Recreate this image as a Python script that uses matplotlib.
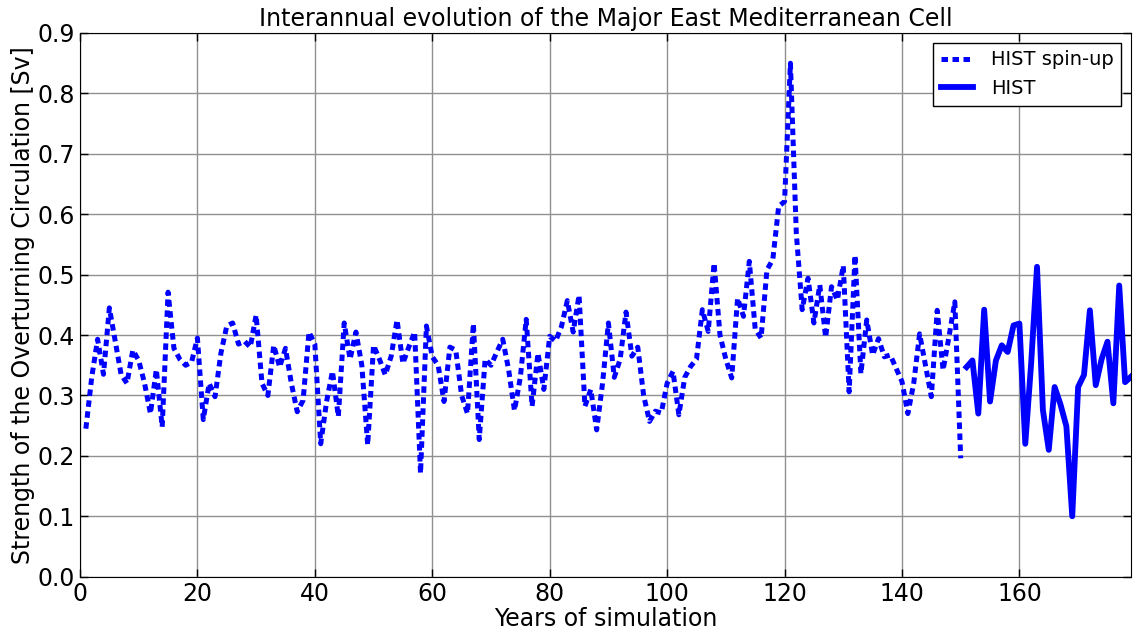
"""
Interannual evolution of the Major East Mediterranean Cell.
"""

import numpy as np
import matplotlib
matplotlib.use("Agg")
import matplotlib.pyplot as plt

# spin-up run, years 1..150
spinup_years = np.arange(1, 151)
spinup_sv = [
    0.245, 0.33, 0.393, 0.335, 0.445, 0.39, 0.335, 0.32, 0.375, 0.358,
    0.32, 0.27, 0.343, 0.248, 0.471, 0.378, 0.36, 0.35, 0.355, 0.395,
    0.26, 0.32, 0.298, 0.37, 0.415, 0.42, 0.385, 0.39, 0.38, 0.433,
    0.32, 0.30, 0.383, 0.347, 0.378, 0.32, 0.273, 0.292, 0.405, 0.385,
    0.22, 0.29, 0.34, 0.265, 0.42, 0.36, 0.405, 0.35, 0.218, 0.383,
    0.36, 0.334, 0.365, 0.425, 0.353, 0.38, 0.405, 0.171, 0.415, 0.364,
    0.35, 0.29, 0.38, 0.375, 0.30, 0.27, 0.419, 0.227, 0.36, 0.35,
    0.372, 0.393, 0.343, 0.275, 0.33, 0.426, 0.282, 0.37, 0.31, 0.398,
    0.39, 0.414, 0.457, 0.405, 0.466, 0.282, 0.31, 0.243, 0.32, 0.42,
    0.33, 0.36, 0.438, 0.365, 0.38, 0.30, 0.257, 0.274, 0.271, 0.32,
    0.34, 0.268, 0.33, 0.348, 0.36, 0.442, 0.406, 0.519, 0.40, 0.36,
    0.329, 0.461, 0.431, 0.522, 0.41, 0.395, 0.508, 0.525, 0.613, 0.621,
    0.85, 0.569, 0.442, 0.494, 0.42, 0.483, 0.396, 0.48, 0.458, 0.515,
    0.306, 0.532, 0.336, 0.425, 0.367, 0.394, 0.364, 0.367, 0.345, 0.323,
    0.27, 0.32, 0.402, 0.35, 0.298, 0.441, 0.342, 0.397, 0.455, 0.196,
]

# historical run, years 151..179
hist_years = np.arange(151, 180)
hist_sv = [
    0.347, 0.358, 0.27, 0.442, 0.29, 0.358, 0.383, 0.372, 0.416, 0.419,
    0.22, 0.353, 0.513, 0.276, 0.21, 0.314, 0.285, 0.249, 0.10, 0.314,
    0.334, 0.441, 0.317, 0.36, 0.389, 0.287, 0.482, 0.322, 0.331,
]

x_ticks = np.arange(0, 161, 20)
y_ticks = np.round(np.arange(0, 0.91, 0.1), 1)

plt.rcParams['font.family'] = ['DejaVu Sans']
plt.rcParams['xtick.direction'] = 'in'
plt.rcParams['ytick.direction'] = 'in'
plt.rcParams['xtick.top'] = True
plt.rcParams['ytick.right'] = True

fig = plt.figure(figsize=(11.33, 6.32), dpi=100)
ax = fig.add_axes([0.0706, 0.0875, 0.9276, 0.8603])

ax.plot(spinup_years, spinup_sv, color='#0000ff', lw=3.6,
        ls=(0, (1.3, 0.9)), dash_capstyle='butt', label='HIST spin-up')
ax.plot(hist_years, hist_sv, color='#0000ff', lw=4.2, label='HIST')

ax.set_xlim(0, 179)
ax.set_ylim(0, 0.9)
ax.set_xticks(x_ticks)
ax.set_yticks(y_ticks)
ax.set_yticklabels([f'{v:.1f}' for v in y_ticks])
ax.tick_params(labelsize=17, length=6, width=1)
ax.grid(True, color='#909090', lw=1, ls='-')
ax.set_axisbelow(True)

ax.set_title('Interannual evolution of the Major East Mediterranean Cell',
             fontsize=17, pad=5)
ax.set_xlabel('Years of simulation', fontsize=17, labelpad=1)
ax.set_ylabel('Strength of the Overturning Circulation [Sv]', fontsize=17,
              labelpad=2)

leg = ax.legend(loc='upper right', fontsize=14, fancybox=False,
                framealpha=1, edgecolor='black', handlelength=1.65,
                handletextpad=0.9)
leg.get_frame().set_linewidth(1)

fig.savefig('out.png', dpi=100)
plt.close(fig)
